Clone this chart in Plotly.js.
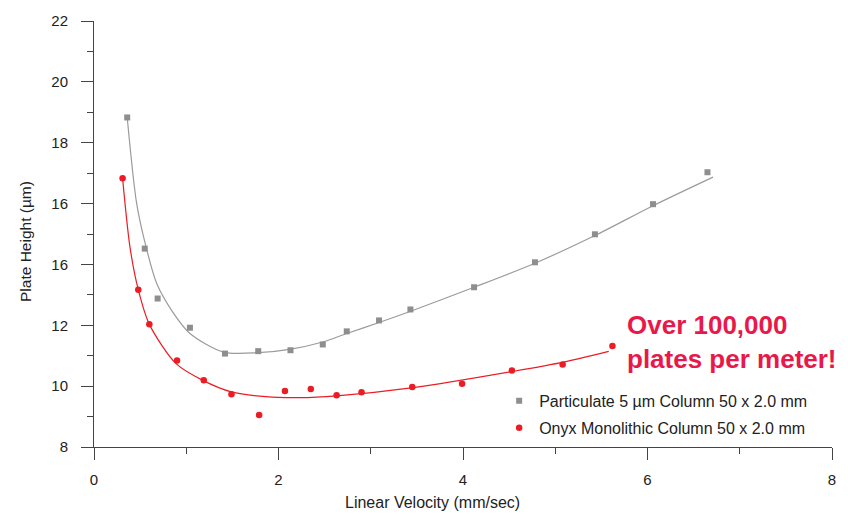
<!DOCTYPE html>
<html>
<head>
<meta charset="utf-8">
<script src="https://cdn.plot.ly/plotly-3.0.1.min.js"></script>
<style>html,body{margin:0;padding:0;background:#fff;}#chart{width:848px;height:514px;}</style>
</head>
<body>
<div id="chart"></div>
<script>
// Measured points
const particulateX = [0.36,0.55,0.69,1.04,1.42,1.78,2.13,2.48,2.74,3.09,3.43,4.12,4.78,5.43,6.06,6.65];
const particulateY = [18.83,14.52,12.88,11.92,11.07,11.15,11.18,11.37,11.80,12.16,12.52,13.25,14.07,14.99,15.98,17.03];
const onyxX = [0.31,0.48,0.60,0.90,1.19,1.49,1.79,2.07,2.35,2.63,2.90,3.45,3.99,4.53,5.08,5.62];
const onyxY = [16.83,13.17,12.03,10.84,10.19,9.73,9.05,9.84,9.91,9.70,9.80,9.97,10.08,10.51,10.71,11.32];

// Fitted curves
const particulateFitX = [0.36,0.46,0.55,0.68,0.85,1.04,1.40,1.78,2.12,2.48,2.74,3.09,3.44,4.12,4.78,5.43,6.06,6.71];
const particulateFitY = [18.83,16.05,14.75,13.37,12.45,11.73,11.12,11.10,11.21,11.45,11.73,12.09,12.47,13.25,14.04,14.95,15.93,16.87];
const onyxFitX = [0.31,0.39,0.48,0.60,0.89,1.18,1.49,1.80,2.23,2.63,3.46,4.55,5.09,5.58];
const onyxFitY = [16.83,14.57,13.17,12.03,10.74,10.19,9.81,9.67,9.62,9.68,9.95,10.49,10.79,11.14];

// Axis ticks
const xTickVals = [0,2,4,6,8];
const yTickVals = [8,10,12,14,16,18,20,22];
const yTickText = ["8","10","12","16","16","18","20","22"];

const seriesNames = ["Particulate 5 µm Column 50 x 2.0 mm","Onyx Monolithic Column 50 x 2.0 mm"];
const grayLine = "#9b9b9b", grayMarker = "#8e8e90", red = "#ec1c24", callout = "#e8194a";

const traces = [
  {x: particulateFitX, y: particulateFitY, mode: "lines", line: {color: grayLine, width: 1.2, shape: "spline", smoothing: 0.8}, showlegend: false, hoverinfo: "skip"},
  {x: onyxFitX, y: onyxFitY, mode: "lines", line: {color: red, width: 1.2, shape: "spline", smoothing: 0.8}, showlegend: false, hoverinfo: "skip"},
  {x: particulateX, y: particulateY, mode: "markers", name: seriesNames[0], legendgroup: "a",
   marker: {symbol: "square", size: 6, color: grayMarker}, cliponaxis: false},
  {x: onyxX, y: onyxY, mode: "markers", name: seriesNames[1], legendgroup: "b",
   marker: {symbol: "circle", size: 6.5, color: red}, cliponaxis: false}
];

const fam = "Liberation Sans, Arial, Helvetica, sans-serif";
const font = {family: fam, size: 15, color: "#222"};

const layout = {
  width: 848, height: 514,
  margin: {l: 94, r: 16, t: 21, b: 67},
  paper_bgcolor: "#fff", plot_bgcolor: "#fff",
  font: font,
  showlegend: true,
  legend: {x: 0.549, xanchor: "left", y: 0.148, yanchor: "top", bgcolor: "rgba(0,0,0,0)",
           font: {family: fam, size: 16, color: "#222"}, traceorder: "grouped", tracegroupgap: 3},
  xaxis: {range: [0, 8], tickvals: xTickVals, showgrid: false, zeroline: false,
          showline: true, linecolor: "#444", linewidth: 1,
          ticks: "outside", ticklen: 12, tickcolor: "#444", tickwidth: 1, ticklabelstandoff: 7,
          minor: {dtick: 1, ticks: "outside", ticklen: 6, tickcolor: "#444", tickwidth: 1, showgrid: false},
          tickfont: {family: fam, size: 15, color: "#222"}},
  yaxis: {range: [8, 22], tickvals: yTickVals, ticktext: yTickText, showgrid: false, zeroline: false,
          showline: true, linecolor: "#444", linewidth: 1,
          ticks: "outside", ticklen: 12, tickcolor: "#444", tickwidth: 1, ticklabelstandoff: 10,
          minor: {tickvals: [9,11,13,15,17,19,21], ticks: "outside", ticklen: 6, tickcolor: "#444", tickwidth: 1, showgrid: false},
          tickfont: {family: fam, size: 15, color: "#222"}},
  annotations: [
    {text: "Over 100,000<br>plates per meter!", xref: "x", yref: "y", x: 5.76, y: 11.44,
     xanchor: "left", yanchor: "middle", align: "left", showarrow: false,
     font: {family: fam, size: 26, color: callout, weight: "bold"}},
    {text: "Linear Velocity (mm/sec)", xref: "paper", yref: "paper", x: 0.458, y: -0.131,
     xanchor: "center", yanchor: "middle", showarrow: false, font: {family: fam, size: 16, color: "#222"}},
    {text: "Plate Height (µm)", xref: "paper", yref: "paper", x: -0.0925, y: 0.483, textangle: -90,
     xanchor: "center", yanchor: "middle", showarrow: false, font: {family: fam, size: 15.5, color: "#222"}}
  ]
};

Plotly.newPlot("chart", traces, layout, {displayModeBar: false, staticPlot: true});
</script>
</body>
</html>
